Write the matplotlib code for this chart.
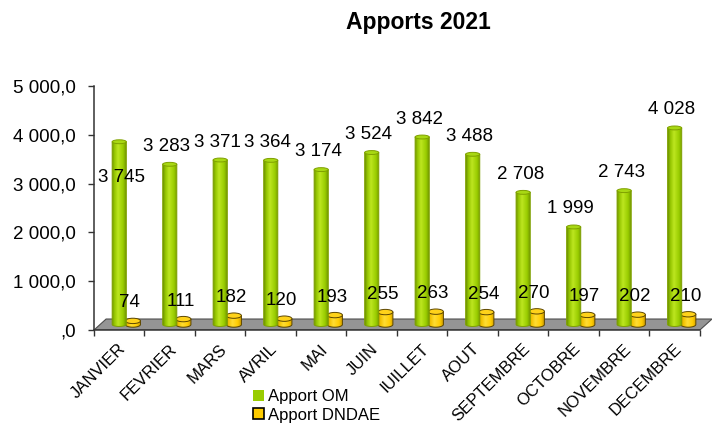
import numpy as np
import matplotlib
matplotlib.use("Agg")
import matplotlib.pyplot as plt
import matplotlib.transforms as mtrans
from matplotlib.patches import Polygon, Ellipse, Rectangle
from matplotlib.colors import LinearSegmentedColormap
from matplotlib.ticker import FuncFormatter, FixedLocator

plt.rcParams['font.family'] = ['Liberation Sans', 'DejaVu Sans']

months = ["JANVIER", "FEVRIER", "MARS", "AVRIL", "MAI", "JUIN", "IUILLET",
          "AOUT", "SEPTEMBRE", "OCTOBRE", "NOVEMBRE", "DECEMBRE"]
apport_om = [3745, 3283, 3371, 3364, 3174, 3524, 3842, 3488, 2708, 1999, 2743, 4028]
apport_dndae = [74, 111, 182, 120, 193, 255, 263, 254, 270, 197, 202, 210]
series_names = ["Apport OM", "Apport DNDAE"]
title = "Apports 2021"
y_ticks = [0, 1000, 2000, 3000, 4000, 5000]

W, H = 712, 423
fig = plt.figure(figsize=(W / 100, H / 100), dpi=100)
ax = fig.add_axes([94 / W, (H - 330) / H, (712 - 94) / W, (330 - 86) / H])

n = len(months)
x = np.arange(n)
xmin, xmax = -0.5, n - 0.5 + 0.24
ymin, ymax = 0, 5000
depth_y = 225      # floor depth in data units (vertical)
depth_x = 0.24     # floor depth in data units (horizontal)

# floor
floor = Polygon([(-0.5, 0), (n - 0.5, 0), (n - 0.5 + depth_x, depth_y), (-0.5 + depth_x, depth_y)],
                closed=True, facecolor="#959595", edgecolor="#4d4d4d", lw=0.8, zorder=1)
ax.add_patch(floor)

green_cmap = LinearSegmentedColormap.from_list(
    "g", [(0, "#6f9400"), (0.15, "#93c400"), (0.4, "#bde620"), (0.75, "#99cc00"), (1, "#6a8c00")])
yellow_cmap = LinearSegmentedColormap.from_list(
    "y", [(0, "#c99a00"), (0.15, "#f2c200"), (0.4, "#ffdd33"), (0.75, "#ffcc00"), (1, "#c49400")])
grad = np.linspace(0, 1, 64).reshape(1, -1)


def cylinder(xc, w, y0, y1, cmap, cap_color, cap_h, edge, z):
    t = np.linspace(np.pi, 2 * np.pi, 40)
    verts = [(xc - w / 2, y1), (xc - w / 2, y0)]
    verts += [(xc + w / 2 * np.cos(a), y0 + cap_h / 2 * np.sin(a)) for a in t]
    verts += [(xc + w / 2, y1)]
    body = Polygon(verts, closed=True, facecolor="none", edgecolor=edge, lw=0.7, zorder=z + 0.1)
    ax.add_patch(body)
    im = ax.imshow(grad, extent=[xc - w / 2, xc + w / 2, y0 - cap_h / 2, y1], cmap=cmap,
                   aspect="auto", zorder=z, interpolation="bilinear")
    im.set_clip_path(body)
    cap = Ellipse((xc, y1), w, cap_h, facecolor=cap_color, edgecolor=edge, lw=0.7, zorder=z + 0.2)
    ax.add_patch(cap)


base = depth_y / 2
om_x = x + 0.0
dn_x = x + 0.27
for i in range(n):
    cylinder(dn_x[i], 0.30, base, base + apport_dndae[i], yellow_cmap, "#ffd21a", 110, "#5c4600", 2)
    cylinder(om_x[i], 0.28, base, base + apport_om[i], green_cmap, "#a8d813", 80, "#7fa000", 3)


def fmt_num(v):
    return f"{int(round(v)):,}".replace(",", " ")

label_offsets_om = {0: (2, -36)}
for i in range(n):
    dx, dy = label_offsets_om.get(i, (-3, 18))
    ax.annotate(fmt_num(apport_om[i]), (om_x[i], base + apport_om[i]), xytext=(dx, dy),
                textcoords="offset pixels", ha="center", va="center", fontsize=13.5, zorder=10)
    ax.annotate(fmt_num(apport_dndae[i]), (dn_x[i], base + apport_dndae[i]), xytext=(-3, 18),
                textcoords="offset pixels", ha="center", va="center", fontsize=13.5, zorder=10)

ax.set_xlim(xmin, xmax)
ax.set_ylim(ymin, ymax)

for s in ["top", "right"]:
    ax.spines[s].set_visible(False)
ax.spines["left"].set_bounds(0, 5000)
ax.spines["bottom"].set_bounds(-0.5, n - 0.5)
for s in ["left", "bottom"]:
    ax.spines[s].set_color("#333333")
    ax.spines[s].set_linewidth(1.1)
    ax.spines[s].set_zorder(5)


def yfmt(v, pos):
    ip = f"{int(round(v)):,}".replace(",", " ") if v >= 1 else ""
    return ip + ",0"

ax.yaxis.set_major_locator(FixedLocator(y_ticks))
ax.yaxis.set_major_formatter(FuncFormatter(yfmt))
ax.tick_params(axis="y", direction="out", length=4, width=1, color="#333333",
               pad=9, labelsize=13.5)

ax.set_xticks(x)
ax.set_xticks(np.arange(-0.5, n, 1.0), minor=True)
ax.tick_params(axis="x", which="major", length=0, pad=8)
ax.tick_params(axis="x", which="minor", length=4, width=1, color="#333333", direction="out")
ax.set_xticklabels(months, rotation=45, ha="right", rotation_mode="anchor", fontsize=12)
off = mtrans.ScaledTranslation(-1 / 100, 0, fig.dpi_scale_trans)
for lab in ax.get_xticklabels():
    lab.set_transform(lab.get_transform() + off)

fig.text(418.5 / W, 1 - 22 / H, title, ha="center", va="center", fontsize=16.5, fontweight="bold")

handles = [Rectangle((0, 0), 1, 1, facecolor="#99cc00", edgecolor="none"),
           Rectangle((0, 0), 1, 1, facecolor="#ffcc00", edgecolor="black", lw=1.2)]
fig.legend(handles, series_names, loc="center left", bbox_to_anchor=(253 / W, 1 - 406 / H),
           frameon=False, fontsize=12, handlelength=0.65, handleheight=0.65,
           handletextpad=0.25, labelspacing=0.2, borderpad=0, borderaxespad=0)

fig.savefig("out.png", dpi=100)
